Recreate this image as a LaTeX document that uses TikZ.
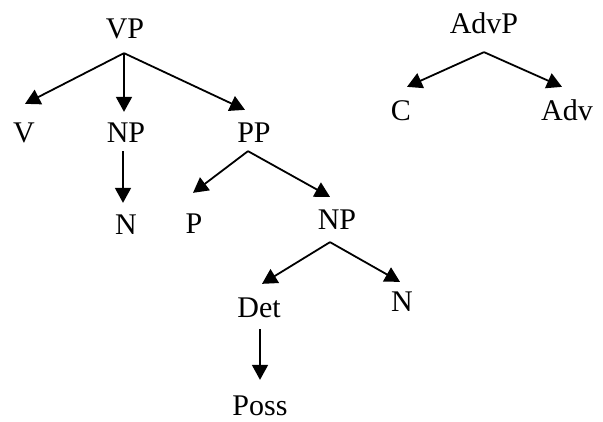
\documentclass[tikz,border=0pt]{standalone}
\usepackage{fontspec}
\setmainfont{Liberation Serif}
\usepackage{tikz}
\usetikzlibrary{arrows.meta}
\tikzstyle{cat} = [inner sep=0pt, text height=19.9pt, text depth=0pt,
    font=\fontsize{30}{36}\selectfont]
\tikzstyle{line} = [draw, line width=1.8pt,
    -{Triangle[length=15pt,width=16pt]}]

\begin{document}
\begin{tikzpicture}[x=1pt,y=-1pt]

\useasboundingbox (0,0) rectangle (603,422);

        % Place nodes
    \node [cat] (vp) at (125,29) {VP};
    \node [cat] (v) at (24,133) {V};
    \node [cat] (np) at (126,133) {NP};
    \node [cat] (pp) at (254,133) {PP};
    \node [cat] (n) at (126,225) {N};
    \node [cat] (p) at (194,224) {P};
    \node [cat] (np2) at (337,220) {NP};
    \node [cat] (det) at (259,308) {Det};
    \node [cat] (n2) at (402,302) {N};
    \node [cat] (poss) at (260,406) {Poss};

    \node [cat] (advp) at (484,24) {AdvP};
    \node [cat] (c) at (401,111) {C};
    \node [cat] (adv) at (567,111) {Adv};

    \path [line] ([shift={(-1pt,-14pt)}]vp.south) -- ([shift={(1pt,19pt)}]v.north);
    \path [line] ([shift={(-1pt,-14pt)}]vp.south) -- ([shift={(-2pt,11pt)}]np.north);
    \path [line] ([shift={(-1pt,-14pt)}]vp.south) -- ([shift={(-9pt,13pt)}]pp.north);
    \path [line] ([shift={(-3pt,-8pt)}]np.south) -- ([shift={(-3pt,12pt)}]n.north);

    \path [line] ([shift={(-6pt,-8pt)}]pp.south) -- ([shift={(-1pt,21pt)}]p.north);
    \path [line] ([shift={(-6pt,-8pt)}]pp.south) -- ([shift={(-7pt,13pt)}]np2.north);

    \path [line] ([shift={(-7pt,-12pt)}]np2.south) -- ([shift={(3pt,14pt)}]det.north);
    \path [line] ([shift={(-7pt,-12pt)}]np2.south) -- ([shift={(-2pt,10pt)}]n2.north);
    \path [line] ([shift={(1pt,-11pt)}]det.south) -- ([shift={(0pt,16pt)}]poss.north);

    \path [line] ([shift={(0pt,-18pt)}]advp.south) -- ([shift={(6pt,14pt)}]c.north);
    \path [line] ([shift={(0pt,-18pt)}]advp.south) -- ([shift={(-5pt,14pt)}]adv.north);
\end{tikzpicture}
\end{document}
